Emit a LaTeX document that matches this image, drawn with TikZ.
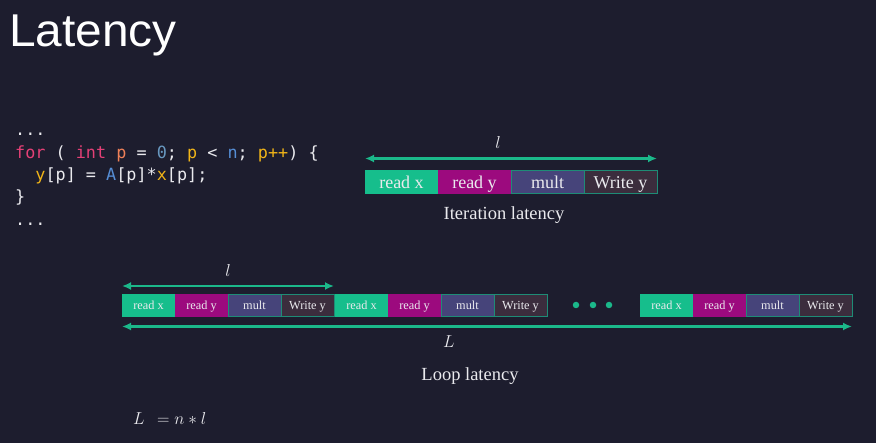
\documentclass[tikz,border=0pt]{standalone}
\usepackage{fontspec}
\setmainfont{Liberation Serif}
\newfontfamily\titlefont{Liberation Sans}
\newfontfamily\codefont{DejaVu Sans Mono}
\usetikzlibrary{arrows.meta}

% slide palette
\definecolor{slidebg}{RGB}{29,29,46}
\definecolor{ink}{RGB}{234,234,238}
\definecolor{spanc}{RGB}{27,184,138}
\definecolor{edgec}{RGB}{30,140,118}
\definecolor{cx}{RGB}{22,190,140}
\definecolor{cy}{RGB}{156,10,126}
\definecolor{cm}{RGB}{70,68,122}
\definecolor{cw}{RGB}{59,45,61}
% code highlighting
\definecolor{codekw}{RGB}{228,64,118}
\definecolor{codeorange}{RGB}{238,128,88}
\definecolor{codenum}{RGB}{104,152,192}
\definecolor{codevar}{RGB}{240,180,24}
\definecolor{codeblue}{RGB}{86,142,214}
\newcommand\hkw[1]{\textcolor{codekw}{#1}}
\newcommand\hor[1]{\textcolor{codeorange}{#1}}
\newcommand\hnum[1]{\textcolor{codenum}{#1}}
\newcommand\hvar[1]{\textcolor{codevar}{#1}}
\newcommand\hblue[1]{\textcolor{codeblue}{#1}}

\tikzset{
  stagebox/.style={minimum width=73pt, minimum height=23pt, inner sep=0pt, outer sep=0pt,
    text height=14pt, text depth=0pt,
    line width=0.8pt, text=ink, font=\fontsize{18}{18}\selectfont, anchor=west},
  smallbox/.style={minimum width=53pt, minimum height=22pt, inner sep=0pt, outer sep=0pt,
    text height=9pt, text depth=0pt,
    line width=0.8pt, text=ink, font=\fontsize{12.3}{12.3}\selectfont, anchor=west},
  span/.style={draw=spanc, line width=2.6pt,
    {Latex[length=9pt,width=8pt]}-{Latex[length=9pt,width=8pt]}},
  codeline/.style={anchor=base west, inner sep=0pt, text=ink, font=\codefont\fontsize{16.8}{16.8}\selectfont},
  caption/.style={text=ink, inner sep=0pt, font=\fontsize{18.5}{18.5}\selectfont},
  mathlabel/.style={text=ink, inner sep=0pt, font=\fontsize{18}{18}\selectfont},
  dot/.style={circle, fill=spanc, minimum size=6.5pt, inner sep=0pt},
}

\begin{document}
\begin{tikzpicture}[x=1pt, y=-1pt]
  \fill[slidebg] (0,0) rectangle (876,443);
  \useasboundingbox (0,0) rectangle (876,443);

  % title
  \node[anchor=base west, inner sep=0pt, text=white, font=\titlefont\fontsize{46}{46}\selectfont]
    (title) at (9,47) {\scalebox{1.04}[1]{Latency}};

  % source listing
  \node[codeline] (c1) at (15,136) {...};
  \node[codeline] (c2) at (15,159) {\hkw{for} ( \hkw{int} \hor{p} = \hnum{0}; \hvar{p} < \hblue{n}; \hvar{p++}) \{};
  \node[codeline] (c3) at (15,181) {\phantom{xx}\hvar{y}[p] = \hblue{A}[p]*\hvar{x}[p];};
  \node[codeline] (c4) at (15,203) {\}};
  \node[codeline] (c5) at (15,226) {...};

  % one iteration
  \node[stagebox, fill=cx, draw=cx] (ix) at (365,182) {read x};
  \node[stagebox, fill=cy, draw=cy] (iy) at (ix.east) {read y};
  \node[stagebox, fill=cm, draw=edgec] (im) at (iy.east) {mult};
  \node[stagebox, fill=cw, draw=edgec] (iw) at (im.east) {Write y};
  \draw[span] ([yshift=12pt]ix.north west) -- ([yshift=12pt]iw.north east);
  \node[mathlabel] (il) at (498,143) {$l$};
  \node[caption] (icap) at (504,215) {Iteration latency};

  % the whole loop
  \foreach \g/\xx in {a/122, b/335, c/640} {
    \node[smallbox, fill=cx, draw=cx] (\g-x) at (\xx,305.5) {read x};
    \node[smallbox, fill=cy, draw=cy] (\g-y) at (\g-x.east) {read y};
    \node[smallbox, fill=cm, draw=edgec] (\g-m) at (\g-y.east) {mult};
    \node[smallbox, fill=cw, draw=edgec] (\g-w) at (\g-m.east) {Write y};
  }
  \node[dot] (d1) at (576,305) {};
  \node[dot] (d2) at (593,305) {};
  \node[dot] (d3) at (609,305) {};

  \draw[span] ([yshift=8.5pt]a-x.north west) -- ([yshift=8.5pt]a-w.north east);
  \node[mathlabel] (al) at (228,271) {$l$};
  \draw[span] ([yshift=-10pt]a-x.south west) -- ([yshift=-10pt]c-w.south east);
  \node[mathlabel] (ll) at (449,342) {$L$};
  \node[caption] (lcap) at (470,376) {Loop latency};

  % total latency
  \node[anchor=base west, inner sep=0pt, text=ink, font=\fontsize{17}{17}\selectfont]
    (eq) at (133,425) {$L\;\,= n * l$};
\end{tikzpicture}
\end{document}
